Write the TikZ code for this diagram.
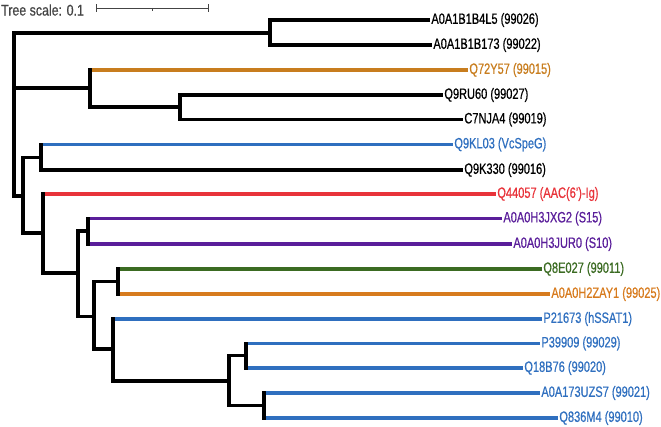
\documentclass[tikz,border=0pt]{standalone}
\usepackage{fontspec}
\setmainfont[FakeStretch=0.735,FakeBold=0.6]{Liberation Sans}
\newfontfamily\scalefont[FakeStretch=0.8,FakeBold=0.6]{Liberation Sans}
\definecolor{tblue}{HTML}{2F6FBF}
\definecolor{tred}{HTML}{E8333A}
\definecolor{tpurple}{HTML}{5A1E9A}
\definecolor{tgreen}{HTML}{3B6B22}
\definecolor{torange}{HTML}{C87D1E}
\definecolor{torange2}{HTML}{D77B1E}
\definecolor{tgrey}{HTML}{444444}
\tikzset{
  br/.style={line width=3.4pt, line cap=rect, black},
  lf/.style={line width=3.4pt, line cap=butt},
  lab/.style={anchor=west, inner sep=1.2pt, font=\fontsize{15}{17}\selectfont}
}
\begin{document}
\begin{tikzpicture}[x=1pt,y=-1pt]
\useasboundingbox (0,0) rectangle (661,427);
% scale
\node[anchor=west, inner sep=0pt, text=tgrey, font=\scalefont\fontsize{15.5}{17}\selectfont] (ts) at (1,10) {Tree scale: 0.1};
\coordinate (s1) at (96,8); \coordinate (s2) at (208,8); \coordinate (s3) at (152,8);
\draw[tgrey, line width=0.9pt] (s1) -- (s2);
\draw[tgrey, line width=0.9pt] ([yshift=-4]s1) -- ([yshift=4]s1);
\draw[tgrey, line width=0.9pt] ([yshift=-4]s2) -- ([yshift=4]s2);
\draw[tgrey, line width=0.9pt] (s3) -- ([yshift=-3]s3);

% internal nodes
\coordinate (root) at (14,114);
\coordinate (A) at (270,33);
\coordinate (B) at (90,88);
\coordinate (C) at (180,107);
\coordinate (D) at (23,196);
\coordinate (E) at (41,157.5);
\coordinate (F) at (43,233);
\coordinate (G) at (78,273);
\coordinate (H) at (88,231);
\coordinate (I) at (94,316.5);
\coordinate (J) at (118,281.5);
\coordinate (K) at (113,349);
\coordinate (L) at (229,381);
\coordinate (M) at (246,355.5);
\coordinate (N) at (264,405.5);

% leaves
\coordinate (l1) at (430,20);
\coordinate (l2) at (432,45);
\coordinate (l3) at (468,70);
\coordinate (l4) at (443,95);
\coordinate (l5) at (463,119.5);
\coordinate (l6) at (453,144.5);
\coordinate (l7) at (463,170);
\coordinate (l8) at (496,194);
\coordinate (l9) at (502,218.5);
\coordinate (l10) at (512,244);
\coordinate (l11) at (542,269);
\coordinate (l12) at (550,294);
\coordinate (l13) at (542,319);
\coordinate (l14) at (540,343.5);
\coordinate (l15) at (523,368);
\coordinate (l16) at (540,393);
\coordinate (l17) at (558,418);

% internal branches
\draw[br] (root |- A) -- (root |- D);
\draw[br] (root |- A) -- (A);
\draw[br] (root |- B) -- (B);
\draw[br] (root |- D) -- (D);
\draw[br] (A |- l1) -- (A |- l2);
\draw[br] (B |- l3) -- (B |- C) -- (C);
\draw[br] (C |- l4) -- (C |- l5);
\draw[br] (D |- E) -- (D |- F);
\draw[br] (D |- E) -- (E);
\draw[br] (D |- F) -- (F);
\draw[br] (E |- l6) -- (E |- l7);
\draw[br] (F |- l8) -- (F |- G) -- (G);
\draw[br] (G |- H) -- (G |- I);
\draw[br] (G |- H) -- (H);
\draw[br] (G |- I) -- (I);
\draw[br] (H |- l9) -- (H |- l10);
\draw[br] (I |- J) -- (I |- K);
\draw[br] (I |- J) -- (J);
\draw[br] (I |- K) -- (K);
\draw[br] (J |- l11) -- (J |- l12);
\draw[br] (K |- l13) -- (K |- L) -- (L);
\draw[br] (L |- M) -- (L |- N);
\draw[br] (L |- M) -- (M);
\draw[br] (L |- N) -- (N);
\draw[br] (M |- l14) -- (M |- l15);
\draw[br] (N |- l16) -- (N |- l17);

% leaf branches
\draw[lf, black] (A |- l1) -- (l1);
\draw[lf, black] (A |- l2) -- (l2);
\draw[lf, torange] ([xshift=1.7]B |- l3) -- (l3);
\draw[lf, black] (C |- l4) -- (l4);
\draw[lf, black] (C |- l5) -- (l5);
\draw[lf, tblue] ([xshift=1.7]E |- l6) -- (l6);
\draw[lf, black] (E |- l7) -- (l7);
\draw[lf, tred] ([xshift=1.7]F |- l8) -- (l8);
\draw[lf, tpurple] ([xshift=1.7]H |- l9) -- (l9);
\draw[lf, tpurple] ([xshift=1.7]H |- l10) -- (l10);
\draw[lf, tgreen] ([xshift=1.7]J |- l11) -- (l11);
\draw[lf, torange2] ([xshift=1.7]J |- l12) -- (l12);
\draw[lf, tblue] ([xshift=1.7]K |- l13) -- (l13);
\draw[lf, tblue] ([xshift=1.7]M |- l14) -- (l14);
\draw[lf, tblue] ([xshift=1.7]M |- l15) -- (l15);
\draw[lf, tblue] ([xshift=1.7]N |- l16) -- (l16);
\draw[lf, tblue] ([xshift=1.7]N |- l17) -- (l17);

% labels
\node[lab] (t1) at (l1) {A0A1B1B4L5 (99026)};
\node[lab] (t2) at (l2) {A0A1B1B173 (99022)};
\node[lab, text=torange] (t3) at (l3) {Q72Y57 (99015)};
\node[lab] (t4) at (l4) {Q9RU60 (99027)};
\node[lab] (t5) at (l5) {C7NJA4 (99019)};
\node[lab, text=tblue] (t6) at (l6) {Q9KL03 (VcSpeG)};
\node[lab] (t7) at (l7) {Q9K330 (99016)};
\node[lab, text=tred] (t8) at (l8) {Q44057 (AAC(6')-Ig)};
\node[lab, text=tpurple] (t9) at (l9) {A0A0H3JXG2 (S15)};
\node[lab, text=tpurple] (t10) at (l10) {A0A0H3JUR0 (S10)};
\node[lab, text=tgreen] (t11) at (l11) {Q8E027 (99011)};
\node[lab, text=torange2] (t12) at (l12) {A0A0H2ZAY1 (99025)};
\node[lab, text=tblue] (t13) at (l13) {P21673 (hSSAT1)};
\node[lab, text=tblue] (t14) at (l14) {P39909 (99029)};
\node[lab, text=tblue] (t15) at (l15) {Q18B76 (99020)};
\node[lab, text=tblue] (t16) at (l16) {A0A173UZS7 (99021)};
\node[lab, text=tblue] (t17) at (l17) {Q836M4 (99010)};
\end{tikzpicture}
\end{document}
